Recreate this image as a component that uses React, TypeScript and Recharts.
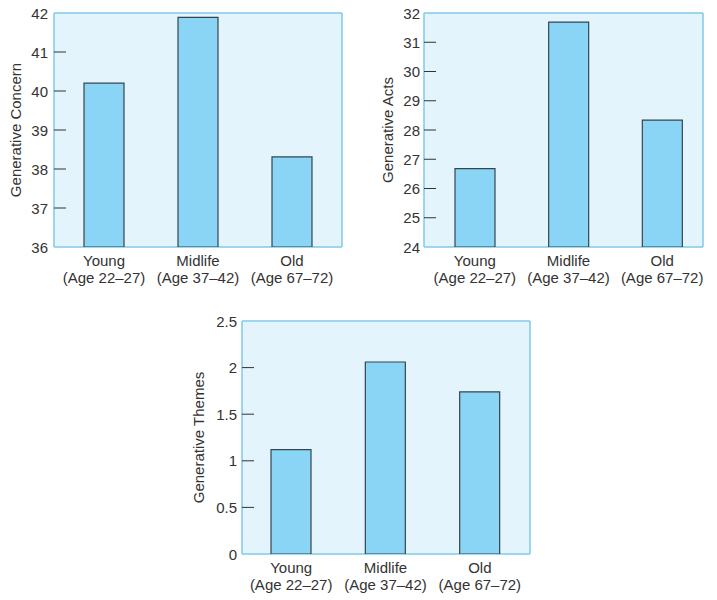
import React from 'react';
import { Bar, BarChart, CartesianGrid, XAxis, YAxis } from 'recharts';

const groups = ['Young', 'Midlife', 'Old'];
const ageRanges = ['(Age 22–27)', '(Age 37–42)', '(Age 67–72)'];

const concernValues = [40.2, 41.89, 38.31];
const concernTicks = [36, 37, 38, 39, 40, 41, 42];

const actsValues = [26.68, 31.69, 28.34];
const actsTicks = [24, 25, 26, 27, 28, 29, 30, 31, 32];

const themesValues = [1.12, 2.06, 1.74];
const themesTicks = [0, 0.5, 1, 1.5, 2, 2.5];

const FONT = '"Liberation Sans", Arial, Helvetica, sans-serif';
const TEXT = '#333333';
const PLOT_BG = '#e3f4fc';
const PLOT_BORDER = '#7fcbe8';
const BAR_FILL = '#8ad5f5';
const BAR_STROKE = '#34454f';

interface PanelProps {
  values: number[];
  ticks: number[];
  title: string;
  left: number;
  top: number;
  width: number;
  height: number;
  axisWidth: number;
  marginTop: number;
  marginRight: number;
  xAxisHeight: number;
  labelX: number;
  tickGap: number;
  padLeft: number;
  padRight: number;
}

const Panel: React.FC<PanelProps> = ({
  values,
  ticks,
  title,
  left,
  top,
  width,
  height,
  axisWidth,
  marginTop,
  marginRight,
  xAxisHeight,
  labelX,
  tickGap,
  padLeft,
  padRight,
}) => {
  const data = groups.map((g, i) => ({ group: g, value: values[i] }));
  const lo = ticks[0];
  const hi = ticks[ticks.length - 1];

  // y ticks: label left of the axis, short mark pointing into the plot
  const renderYTick = (props: any) => {
    const { x, y, payload } = props;
    const v = payload.value;
    const edge = v === lo || v === hi;
    return (
      <g>
        {!edge && (
          <line x1={x + tickGap} x2={x + tickGap + 12} y1={y} y2={y} stroke={TEXT} strokeWidth={1} />
        )}
        <text
          x={x}
          y={y}
          textAnchor="end"
          dominantBaseline="central"
          fill={TEXT}
          fontSize={15}
          fontFamily={FONT}
        >
          {v}
        </text>
      </g>
    );
  };

  const renderXTick = (props: any) => {
    const { x, y, payload } = props;
    const i = groups.indexOf(payload.value);
    return (
      <g>
        <text x={x} y={y + 13} textAnchor="middle" dominantBaseline="central" fill={TEXT} fontSize={15} fontFamily={FONT}>
          {payload.value}
        </text>
        <text x={x} y={y + 30} textAnchor="middle" dominantBaseline="central" fill={TEXT} fontSize={15} fontFamily={FONT}>
          {ageRanges[i]}
        </text>
      </g>
    );
  };

  const renderYLabel = (props: any) => {
    const vb = props.viewBox || { x: 0, y: 0, width: 0, height: 0 };
    const cx = vb.x + labelX;
    const cy = vb.y + vb.height / 2;
    return (
      <text
        x={cx}
        y={cy}
        transform={`rotate(-90 ${cx} ${cy})`}
        textAnchor="middle"
        dominantBaseline="central"
        fill={TEXT}
        fontSize={15}
        fontFamily={FONT}
      >
        {title}
      </text>
    );
  };

  return (
    <div style={{ position: 'absolute', left, top }}>
      <BarChart
        width={width}
        height={height}
        data={data}
        margin={{ top: marginTop, right: marginRight, bottom: 3, left: 0 }}
      >
        {/* plot background + frame */}
        <CartesianGrid
          fill={PLOT_BG}
          stroke={PLOT_BORDER}
          strokeWidth={1.5}
          horizontalCoordinatesGenerator={({ offset }: any) => [offset.top, offset.top + offset.height]}
          verticalCoordinatesGenerator={({ offset }: any) => [offset.left, offset.left + offset.width]}
        />
        <XAxis
          dataKey="group"
          height={xAxisHeight}
          axisLine={false}
          tickLine={false}
          tickSize={0}
          tickMargin={0}
          interval={0}
          padding={{ left: padLeft, right: padRight }}
          tick={renderXTick}
        />
        <YAxis
          width={axisWidth}
          domain={[lo, hi]}
          ticks={ticks}
          allowDataOverflow
          axisLine={false}
          tickLine={false}
          tickSize={0}
          tickMargin={tickGap}
          interval={0}
          tick={renderYTick}
          label={{ content: renderYLabel }}
        />
        <Bar
          dataKey="value"
          barSize={40}
          fill={BAR_FILL}
          stroke={BAR_STROKE}
          strokeWidth={1.2}
          isAnimationActive={false}
        />
      </BarChart>
    </div>
  );
};

export default function App() {
  return (
    <div style={{ position: 'absolute', left: 0, top: 0, width: 717, height: 600, background: '#fff' }}>
      <Panel
        values={concernValues}
        ticks={concernTicks}
        title="Generative Concern"
        left={0}
        top={0}
        width={360}
        height={300}
        axisWidth={54}
        marginTop={13}
        marginRight={18}
        xAxisHeight={50}
        labelX={15}
        tickGap={6}
        padLeft={3}
        padRight={3}
      />
      <Panel
        values={actsValues}
        ticks={actsTicks}
        title="Generative Acts"
        left={360}
        top={0}
        width={357}
        height={300}
        axisWidth={64}
        marginTop={13}
        marginRight={14}
        xAxisHeight={50}
        labelX={27}
        tickGap={4}
        padLeft={4}
        padRight={-6}
      />
      <Panel
        values={themesValues}
        ticks={themesTicks}
        title="Generative Themes"
        left={180}
        top={300}
        width={380}
        height={300}
        axisWidth={62}
        marginTop={21}
        marginRight={30}
        xAxisHeight={43}
        labelX={18}
        tickGap={5}
        padLeft={2}
        padRight={3}
      />
    </div>
  );
}
